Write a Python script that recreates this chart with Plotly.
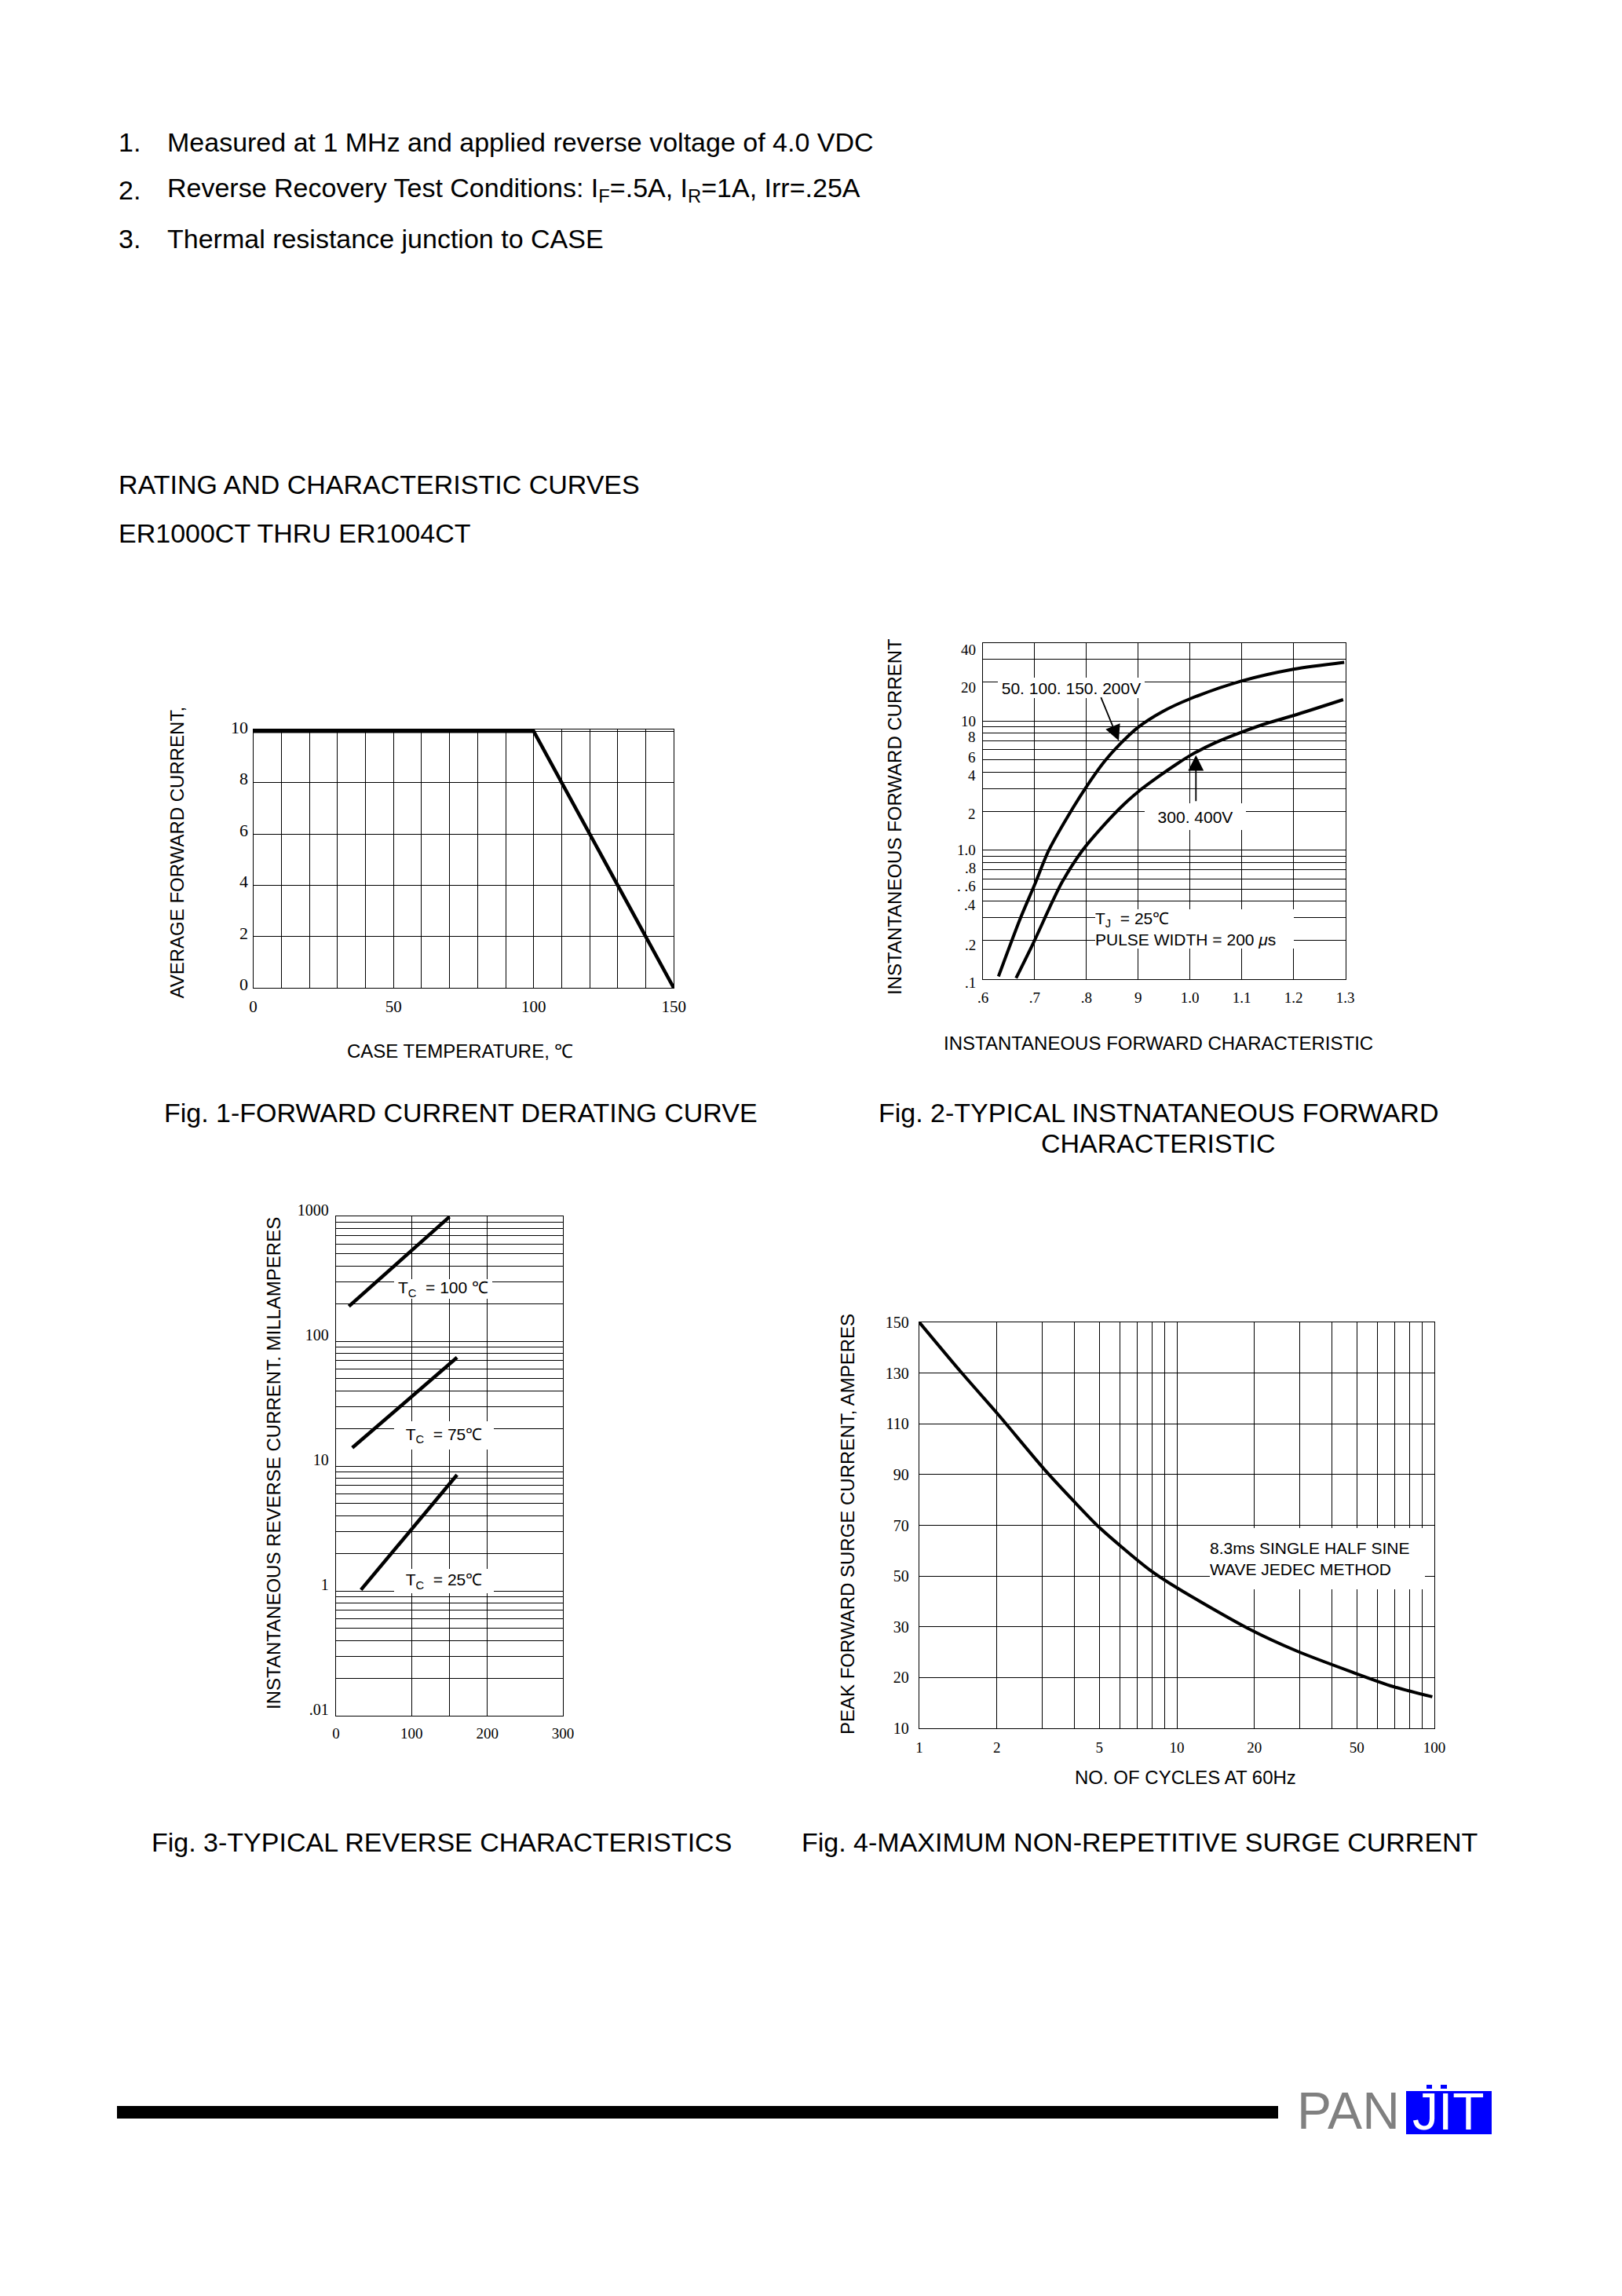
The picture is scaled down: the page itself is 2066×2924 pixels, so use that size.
import numpy as np
import plotly.graph_objects as go

W, H = 2066, 2924

# ================= DATA =================
# Fig.1 forward current derating curve
fig1_case_temp = [0, 100, 150]
fig1_avg_current = [10, 10, 0]
fig1_xgrid = list(range(0, 151, 10))
fig1_xlabel_vals = [0, 50, 100, 150]
fig1_ygrid = [0, 2, 4, 6, 8, 10]

# Fig.2 typical instantaneous forward characteristic
fig2_v_low = [0.630, 0.672, 0.700, 0.727, 0.764, 0.799, 0.835, 0.864, 0.900, 0.947, 1.000, 1.099, 1.200, 1.298]
fig2_i_low = [0.105, 0.294, 0.54, 0.99, 1.82, 3.05, 4.86, 6.56, 8.93, 11.8, 14.8, 20.3, 25.1, 28.4]
fig2_v_high = [0.664, 0.698, 0.733, 0.753, 0.792, 0.835, 0.871, 0.901, 0.942, 0.975, 1.003, 1.048, 1.099, 1.149, 1.200, 1.296]
fig2_i_high = [0.102, 0.193, 0.389, 0.565, 0.99, 1.58, 2.23, 2.85, 3.77, 4.65, 5.47, 6.75, 8.15, 9.59, 11.0, 14.6]
fig2_xgrid = [0.6, 0.7, 0.8, 0.9, 1.0, 1.1, 1.2, 1.3]
fig2_xtext = [".6", ".7", ".8", "9", "1.0", "1.1", "1.2", "1.3"]
fig2_ygrid = [0.1, 0.2, 0.3, 0.4, 0.5, 0.6, 0.7, 0.8, 0.9,
              1, 2, 3, 4, 5, 6, 7, 8, 9, 10, 20, 30, 40]
fig2_ylabel_vals = [0.1, 0.2, 0.4, 0.6, 0.8, 1, 2, 4, 6, 8, 10, 20, 40]
fig2_ylabel_text = [".1", ".2", ".4", ". .6", ".8", "1.0", "2", "4", "6", "8", "10", "20", "40"]
fig2_ylabel_drop = [4, 6, 5, 9, 7, 0, 3, 4, 10, 5, 0, 7, 8]   # px the printed labels sit below their lines

# Fig.3 typical reverse characteristics
fig3_x_100 = [17, 150]
fig3_i_100 = [190, 990]
fig3_x_75 = [21.5, 160]
fig3_i_75 = [14.0, 74]
fig3_x_25 = [33, 160]
fig3_i_25 = [1.02, 8.5]
fig3_xgrid = [0, 100, 150, 200, 300]
fig3_xtext = ["0", "100", "", "200", "300"]
fig3_ygrid = [m * 10.0 ** e for e in range(-1, 3) for m in range(1, 10)] + [1000]
fig3_ylabel_map = {0.1: ".01", 1: "1", 10: "10", 100: "100", 1000: "1000"}

# Fig.4 maximum non-repetitive surge current
fig4_cycles = [1, 1.46, 2.01, 3.06, 4.03, 4.90, 6.05, 7.83, 10, 19.2, 29.3, 47.2, 69.4, 98.2]
fig4_amps = [150, 130.1, 114.0, 92.0, 78.9, 70.0, 61.8, 52.5, 45.4, 29.5, 25.2, 21.2, 18.2, 16.2]
fig4_yscale = [10, 20, 30, 50, 70, 90, 110, 130, 150]
fig4_xgrid = [m * 10.0 ** e for e in range(0, 2) for m in range(1, 10)] + [100]
fig4_xlabel_vals = [1, 2, 5, 10, 20, 50, 100]

# ================= HELPERS =================
SANS = "Liberation Sans, Arial, Helvetica, sans-serif"
SERIF = "Liberation Serif, Times New Roman, serif"


def px_x(x):
    return x / W


def px_y(y):
    return 1 - y / H


def dom_x(a, b):
    return [a / W, b / W]


def dom_y(top, bottom):
    return [1 - bottom / H, 1 - top / H]


def fmt(v):
    return "%g" % v


def tfont(size=19):
    return dict(family=SERIF, size=size, color="black")


def axis(domain, anchor, tickvals, ticktext, **kw):
    d = dict(domain=domain, anchor=anchor, showline=True, mirror=True,
             linecolor="black", linewidth=1.3, showgrid=True,
             gridcolor="black", gridwidth=1, zeroline=False, ticks="",
             tickfont=tfont(), fixedrange=True, tickmode="array",
             tickvals=tickvals, ticktext=ticktext, automargin=False)
    d.update(kw)
    return d


fig = go.Figure()

# Fig 1
fig.add_trace(go.Scatter(x=fig1_case_temp, y=fig1_avg_current, mode="lines",
                         line=dict(color="black", width=4.5), xaxis="x", yaxis="y",
                         showlegend=False, hoverinfo="skip"))
# Fig 2
for xs, ys in [(fig2_v_low, fig2_i_low), (fig2_v_high, fig2_i_high)]:
    fig.add_trace(go.Scatter(x=xs, y=ys, mode="lines",
                             line=dict(color="black", width=4, shape="spline", smoothing=0.8),
                             xaxis="x2", yaxis="y2", showlegend=False, hoverinfo="skip"))
# Fig 3
for xs, ys in [(fig3_x_100, fig3_i_100), (fig3_x_75, fig3_i_75), (fig3_x_25, fig3_i_25)]:
    fig.add_trace(go.Scatter(x=xs, y=ys, mode="lines",
                             line=dict(color="black", width=4.5),
                             xaxis="x3", yaxis="y3", showlegend=False, hoverinfo="skip"))
# Fig 4 (non-uniform labelled axis: map amperes onto the equally spaced label positions)
fig4_pos = np.interp(fig4_amps, fig4_yscale, np.arange(len(fig4_yscale)))
fig.add_trace(go.Scatter(x=fig4_cycles, y=fig4_pos, mode="lines",
                         line=dict(color="black", width=4, shape="spline", smoothing=0.8),
                         xaxis="x4", yaxis="y4", showlegend=False, hoverinfo="skip"))

F2_LEFT, F2_RIGHT, F2_TOP, F2_BOTTOM = 1252, 1713.5, 819, 1247

layout = dict(
    width=W, height=H, autosize=False,
    margin=dict(l=0, r=0, t=0, b=0, pad=0, autoexpand=False),
    paper_bgcolor="white", plot_bgcolor="white",
    showlegend=False,
    xaxis=axis(dom_x(322.6, 858.3), "y", fig1_xgrid,
               [str(v) if v in fig1_xlabel_vals else "" for v in fig1_xgrid],
               range=[0, 150], ticklabelstandoff=4, tickfont=tfont(21)),
    yaxis=axis(dom_y(929, 1258.3), "x", fig1_ygrid, [str(v) for v in fig1_ygrid],
               range=[0, 10.07], ticklabelstandoff=1, ticklabelshift=-5, tickfont=tfont(22)),
    xaxis2=axis(dom_x(F2_LEFT, F2_RIGHT), "y2", fig2_xgrid, fig2_xtext,
                range=[0.6, 1.3], ticklabelstandoff=6),
    yaxis2=axis(dom_y(F2_TOP, F2_BOTTOM), "x2", fig2_ygrid, [""] * len(fig2_ygrid),
                type="log", range=[-1, np.log10(40)]),
    xaxis3=axis(dom_x(428, 717), "y3", fig3_xgrid, fig3_xtext,
                range=[0, 300], ticklabelstandoff=5),
    yaxis3=axis(dom_y(1549, 2185), "x3", fig3_ygrid,
                [fig3_ylabel_map.get(round(v, 6), "") for v in fig3_ygrid],
                type="log", range=[-1, 3], ticklabelstandoff=4, ticklabelshift=-8,
                tickfont=tfont(20)),
    xaxis4=axis(dom_x(1171, 1827), "y4", fig4_xgrid,
                [fmt(v) if round(v, 6) in fig4_xlabel_vals else "" for v in fig4_xgrid],
                type="log", range=[0, 2], ticklabelstandoff=7),
    yaxis4=axis(dom_y(1684, 2201), "x4", list(range(len(fig4_yscale))),
                [str(v) for v in fig4_yscale], range=[0, 8], ticklabelstandoff=8,
                tickfont=tfont(20)),
)

ann = []


def text(x, y, s, size=34, xanchor="left", color="black", angle=0, family=SANS, **kw):
    d = dict(x=px_x(x), y=px_y(y), xref="paper", yref="paper", text=s,
             showarrow=False, xanchor=xanchor, yanchor="middle", textangle=angle,
             font=dict(family=family, size=size, color=color))
    d.update(kw)
    ann.append(d)


# Fig 2 y labels (printed slightly below their grid lines in the original)
for v, t, dy in zip(fig2_ylabel_vals, fig2_ylabel_text, fig2_ylabel_drop):
    ann.append(dict(x=0, y=np.log10(v), xref="x2 domain", yref="y2", text=t,
                    showarrow=False, xanchor="right", yanchor="middle",
                    xshift=-7, yshift=-dy, font=tfont(19)))

# header notes
text(149, 181, "1.")
text(211, 181, "Measured at 1 MHz and applied reverse voltage of 4.0 VDC")
text(149, 242, "2.")
text(211, 242, "Reverse Recovery Test Conditions: I<sub>F</sub>=.5A, I<sub>R</sub>=1A, Irr=.25A")
text(149, 304, "3.")
text(211, 304, "Thermal resistance junction to CASE")
text(149, 617, "RATING AND CHARACTERISTIC CURVES")
text(149, 679, "ER1000CT THRU ER1004CT")

# captions
text(586.5, 1417, "Fig. 1-FORWARD CURRENT DERATING CURVE", xanchor="center")
text(1475, 1417, "Fig. 2-TYPICAL INSTNATANEOUS FORWARD", xanchor="center")
text(1475, 1456, "CHARACTERISTIC", xanchor="center")
text(562, 2346, "Fig. 3-TYPICAL REVERSE CHARACTERISTICS", xanchor="center")
text(1451, 2346, "Fig. 4-MAXIMUM NON-REPETITIVE SURGE CURRENT", xanchor="center")

# axis titles
text(224.5, 1086, "AVERAGE FORWARD CURRENT,", size=24, xanchor="center", angle=-90)
text(586, 1338, "CASE TEMPERATURE, ℃", size=24, xanchor="center")
text(1140, 1040, "INSTANTANEOUS FORWARD CURRENT", size=24, xanchor="center", angle=-90)
text(1475, 1328, "INSTANTANEOUS FORWARD CHARACTERISTIC", size=24, xanchor="center")
text(348, 1864, "INSTANTANEOUS REVERSE CURRENT. MILLAMPERES", size=24, xanchor="center", angle=-90)
text(1079, 1941, "PEAK FORWARD SURGE CURRENT, AMPERES", size=24, xanchor="center", angle=-90)
text(1510, 2263, "NO. OF CYCLES AT 60Hz", size=24, xanchor="center")

# in-chart labels with white boxes
box = dict(bgcolor="white", borderpad=0, borderwidth=0)
text(1364.7, 875.7, "50. 100. 150. 200V", size=21, xanchor="center", width=187, height=26, **box)
text(1522.5, 1040, "300. 400V", size=21, xanchor="center", width=129, height=34, **box)
text(1521.5, 1183, "T<sub>J</sub>  = 25℃<br>PULSE WIDTH = 200 <i>μ</i>s", size=21,
     xanchor="center", width=253, height=50, align="left", **box)
text(564.5, 1641.7, "T<sub>C</sub>  = 100 ℃", size=21, xanchor="center", width=125, height=25, **box)
text(565.5, 1828, "T<sub>C</sub>  = 75℃", size=21, xanchor="center", width=127, height=36, **box)
text(565.5, 2013.4, "T<sub>C</sub>  = 25℃", size=21, xanchor="center", width=127, height=31, **box)
text(1678, 1984.7, "8.3ms SINGLE HALF SINE<br>WAVE JEDEC METHOD", size=21, xanchor="center",
     width=274, height=78, align="left", **box)

# arrows on fig 2
for hx, hy, axp, ayp in [(1425, 943.3, -23.3, -56.6), (1523.3, 961.7, 0, 60)]:
    ann.append(dict(x=px_x(hx), y=px_y(hy), xref="paper", yref="paper", text="",
                    showarrow=True, ax=axp, ay=ayp, arrowhead=2, arrowsize=2.2,
                    arrowwidth=1.8, arrowcolor="black"))

# logo text
text(1650, 2688, "PAN", size=66, color="#808080")
text(1845, 2689, "JIT", size=66, color="white", xanchor="center")

shapes = [
    dict(type="rect", xref="paper", yref="paper", x0=px_x(149), x1=px_x(1628),
         y0=px_y(2698), y1=px_y(2682), fillcolor="black", line=dict(width=0)),
    dict(type="rect", xref="paper", yref="paper", x0=px_x(1791), x1=px_x(1900),
         y0=px_y(2718), y1=px_y(2663), fillcolor="#0000FF", line=dict(width=0)),
    dict(type="rect", xref="paper", yref="paper", x0=px_x(1817), x1=px_x(1824),
         y0=px_y(2660), y1=px_y(2655), fillcolor="#0000FF", line=dict(width=0)),
    dict(type="rect", xref="paper", yref="paper", x0=px_x(1835), x1=px_x(1843),
         y0=px_y(2660), y1=px_y(2655), fillcolor="#0000FF", line=dict(width=0)),
]

layout["annotations"] = ann
layout["shapes"] = shapes
fig.update_layout(**layout)

page_fix = (
    "var de=document.documentElement, b=document.body;"
    "de.style.margin='0';de.style.padding='0';de.style.overflow='hidden';"
    "b.style.margin='0';b.style.padding='0';b.style.overflow='hidden';"
    "var d=document.getElementById('{plot_id}');"
    "d.style.position='fixed';d.style.left='0px';d.style.top='0px';"
)
fig.write_html("out.html", config={"displayModeBar": False}, post_script=page_fix)
